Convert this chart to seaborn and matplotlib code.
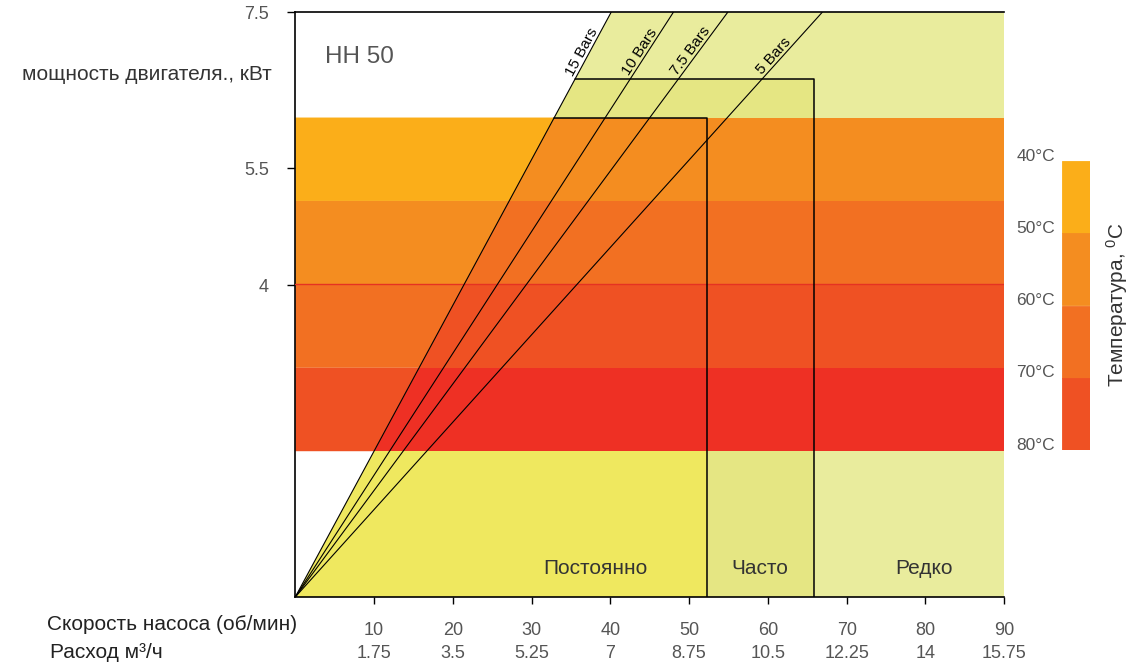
import numpy as np
import pandas as pd
import matplotlib
matplotlib.use("Agg")
import matplotlib.pyplot as plt
import seaborn as sns

# pressure lines: speed where each line reaches the top of the chart (7.5 kW)
bar_labels = ["15 Bars", "10 Bars", "7.5 Bars", "5 Bars"]
bar_top_x = [40.1, 48.0, 54.9, 66.9]
bar_label_y = [6.95, 6.95, 6.95, 6.88]

# duty zones
zone_names = ["Постоянно", "Часто", "Редко"]
zone_right = [52.3, 65.9, 90]
zone_top = [6.15, 6.65, 7.5]
zone_colors = ["#efe85f", "#e5e683", "#e9ec9d"]
zone_label_x = [38.1, 59.0, 79.8]

# temperature bands (power bounds, kW)
band_edges = [6.15, 5.08, 4.01, 2.94, 1.87]
temps = [40, 50, 60, 70, 80]
band_colors = ["#fbae19", "#f48d20", "#f27022", "#ef5123"]
band_colors_in = ["#f48d20", "#f27022", "#ef5123", "#ee3024"]

speed_ticks = [10, 20, 30, 40, 50, 60, 70, 80, 90]
flow_labels = ["1.75", "3.5", "5.25", "7", "8.75", "10.5", "12.25", "14", "15.75"]
power_ticks = [4, 5.5, 7.5]
power_labels = ["4", "5.5", "7.5"]

sns.set_style("white")
plt.rcParams['font.family'] = ['Liberation Sans', 'DejaVu Sans']
plt.rcParams['mathtext.default'] = 'regular'

fig = plt.figure(figsize=(11.33, 6.64), dpi=100)
ax = fig.add_axes([0.2606, 0.1009, 0.6257, 0.8806])
ax.set_xlim(0, 90)
ax.set_ylim(0, 7.5)

slope15 = 7.5 / bar_top_x[0]
def x15(y):
    return y / slope15

# zones to the right of the 15 bar line
prev_r, prev_t = 0, 0
for r, t, c in zip(zone_right, zone_top, zone_colors):
    xs = [prev_r, prev_r, x15(prev_t), x15(t), r, r]
    ys = [0, prev_t, prev_t, t, t, 0]
    ax.fill(xs, ys, color=c, lw=0, zorder=1)
    prev_r, prev_t = r, t

# temperature bands, darker inside the working area
for i in range(len(band_colors)):
    hi, lo = band_edges[i], band_edges[i + 1]
    ax.fill([0, x15(lo), x15(hi), 0], [lo, lo, hi, hi], color=band_colors[i], lw=0, zorder=2)
    ax.fill([x15(lo), 90, 90, x15(hi)], [lo, lo, hi, hi], color=band_colors_in[i], lw=0, zorder=2)
ax.axhline(band_edges[2], color="#e53222", lw=1, zorder=3)

# pressure lines
rows = []
for lab, xt in zip(bar_labels, bar_top_x):
    rows.append({"speed": 0, "power": 0, "line": lab})
    rows.append({"speed": xt, "power": 7.5, "line": lab})
df = pd.DataFrame(rows)
sns.lineplot(data=df, x="speed", y="power", hue="line", palette=["black"] * 4,
             estimator=None, sort=False, legend=False, lw=0.8, ax=ax, zorder=4)

# zone outlines
for r, t in zip(zone_right[:2], zone_top[:2]):
    ax.plot([x15(t), r, r], [t, t, 0], color="black", lw=1.1, zorder=5)

for name, x in zip(zone_names, zone_label_x):
    ax.text(x, 0.37, name, ha="center", va="center", fontsize=15, color="#333333", zorder=6)

ax.text(3.8, 6.93, "НН 50", ha="left", va="center", fontsize=17.5, color="#555555")

ax.set_xticks(speed_ticks)
ax.set_xticklabels([str(s) for s in speed_ticks])
ax.set_yticks(power_ticks)
ax.set_yticklabels(power_labels)
ax.set_xlabel("")
ax.set_ylabel("")
ax.tick_params(axis="x", direction="out", length=5, width=1, color="black",
               labelcolor="#555555", labelsize=13, pad=13, bottom=True)
ax.tick_params(axis="y", direction="out", length=6, width=1, color="black",
               labelcolor="#555555", labelsize=13, pad=13, left=True)
sns.despine(ax=ax, top=False, right=True)
for s in ["left", "bottom", "top"]:
    ax.spines[s].set_color("black")
    ax.spines[s].set_linewidth(1.2)

tr = ax.get_xaxis_transform()
for s, f in zip(speed_ticks, flow_labels):
    ax.text(s, -0.0965, f, transform=tr, ha="center", va="center",
            fontsize=13, color="#555555", clip_on=False)

# labels along pressure lines
for lab, xt, ly in zip(bar_labels, bar_top_x, bar_label_y):
    k = 7.5 / xt
    p0 = ax.transData.transform((0, 0))
    p1 = ax.transData.transform((xt, 7.5))
    ang = np.degrees(np.arctan2(p1[1] - p0[1], p1[0] - p0[0]))
    ax.text(ly / k, ly, lab, rotation=ang, rotation_mode="anchor", ha="center",
            va="bottom", fontsize=11, color="black", zorder=6)

fig.text(272 / 1133, 1 - 75 / 664, "мощность двигателя., кВт", ha="right", va="center",
         fontsize=15, color="#333333")
fig.text(47 / 1133, 1 - 625 / 664, "Скорость насоса (об/мин)", ha="left", va="center",
         fontsize=15, color="#222222")
fig.text(50 / 1133, 1 - 653 / 664, "Расход м³/ч", ha="left", va="center",
         fontsize=15, color="#222222")

# temperature legend bar
cax = fig.add_axes([1062 / 1133, 1 - 450 / 664, 28 / 1133, 289 / 664])
cax.bar([0] * 4, [10] * 4, bottom=temps[:4], width=1, color=band_colors,
        edgecolor=band_colors, lw=0.6)
cax.set_xlim(-0.5, 0.5)
cax.set_ylim(80, 40)
cax.axis("off")
for t in temps:
    cax.annotate(f"{t}°C", xy=(0, t), xycoords=("axes fraction", "data"),
                 xytext=(-5, 3.5), textcoords="offset points", ha="right", va="center",
                 fontsize=12.5, color="#555555", annotation_clip=False)
fig.text(1117 / 1133, 1 - 305 / 664, "Температура, $^0$C", rotation=90, ha="center",
         va="center", fontsize=15, color="#333333")

fig.savefig("out.png", dpi=100)
